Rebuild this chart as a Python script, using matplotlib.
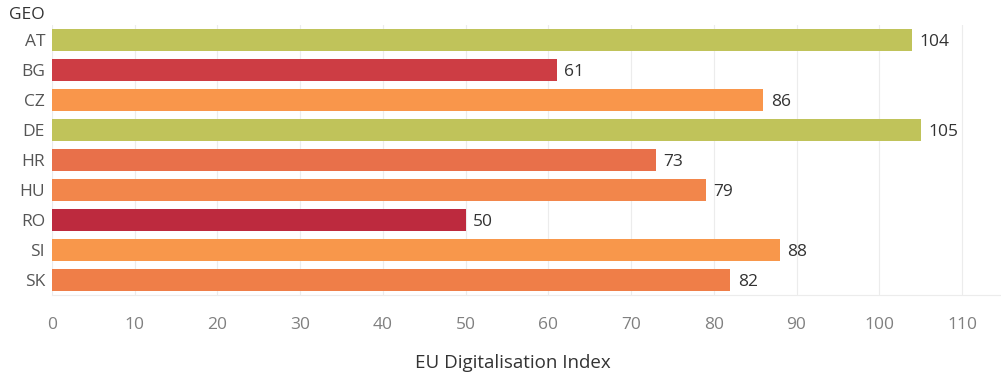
import matplotlib
matplotlib.use("Agg")
import matplotlib.pyplot as plt

# EU Digitalisation Index by country
geo = ["AT", "BG", "CZ", "DE", "HR", "HU", "RO", "SI", "SK"]
index_values = [104, 61, 86, 105, 73, 79, 50, 88, 82]
bar_colors = ["#c0c35a", "#cd3d44", "#f9964b", "#c0c35a", "#e8704a",
              "#f2864b", "#bd2a3e", "#f8974b", "#ef7e48"]
x_ticks = list(range(0, 111, 10))

plt.rcParams["font.family"] = ["Open Sans", "DejaVu Sans"]

fig = plt.figure(figsize=(10.01, 3.74), dpi=100)
ax = fig.add_axes([52 / 1001, 1 - 295 / 374, 948 / 1001, 270 / 374])

ypos = list(range(len(geo)))
ax.barh(ypos, index_values, height=0.73, color=bar_colors, zorder=2)

for y, v in zip(ypos, index_values):
    ax.text(v + 0.9, y + 0.08, str(v), va="center", ha="left",
            fontsize=12.5, color="#333333")

ax.set_ylim(len(geo) - 0.5, -0.5)
ax.set_xlim(0, 114.6)
ax.set_yticks(ypos)
ax.set_yticklabels(geo, fontsize=12.5, color="#555555")
ax.set_xticks(x_ticks)
ax.set_xticklabels([str(t) for t in x_ticks], fontsize=12.5, color="#808080")
ax.tick_params(axis="both", length=0)
ax.tick_params(axis="x", pad=16)
ax.tick_params(axis="y", pad=5)

ax.grid(axis="x", color="#ececec", linewidth=0.8, zorder=0)
for s in ["top", "right", "left"]:
    ax.spines[s].set_visible(False)
ax.spines["bottom"].set_color("#ececec")
ax.spines["bottom"].set_linewidth(0.8)

ax.set_xlabel("EU Digitalisation Index", fontsize=13.5, color="#333333")
ax.xaxis.set_label_coords(0.486, -0.22)

fig.text(9 / 1001, 1 - 15 / 374, "GEO", fontsize=12.5, color="#333333",
         va="center", ha="left")

fig.savefig("out.png", dpi=100)
